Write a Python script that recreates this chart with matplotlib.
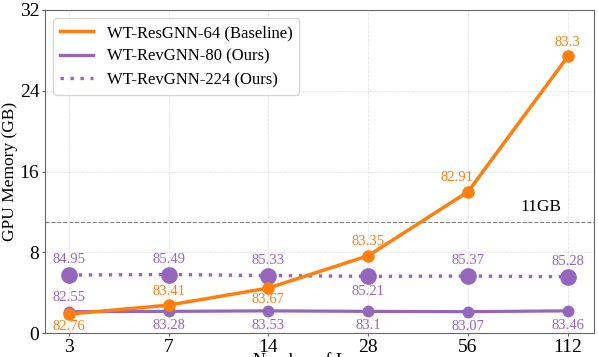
import matplotlib.pyplot as plt

layers = ["3", "7", "14", "28", "56", "112"]
res_mem = [1.88, 2.77, 4.46, 7.66, 14.0, 27.4]
rev80_mem = [2.12, 2.15, 2.2, 2.15, 2.12, 2.2]
rev224_mem = [5.75, 5.8, 5.7, 5.62, 5.65, 5.58]
res_acc = ["82.76", "83.41", "83.67", "83.35", "82.91", "83.3"]
rev80_acc = ["82.55", "83.28", "83.53", "83.1", "83.07", "83.46"]
rev224_acc = ["84.95", "85.49", "85.33", "85.21", "85.37", "85.28"]

orange = "#ff7f0e"
purple = "#9467bd"

plt.rcParams["font.family"] = ["Liberation Serif", "DejaVu Serif"]

fig = plt.figure(figsize=(5.98, 3.57), dpi=100)
ax = fig.add_axes([0.075, 0.067, 0.918, 0.905])

x = list(range(len(layers)))
ax.plot(x, res_mem, color=orange, lw=2.5, marker="o", ms=8, zorder=4)
ax.plot(x, rev80_mem, color=purple, lw=2.3, marker="o", ms=7.5, zorder=3)
ax.plot(x, rev224_mem, color=purple, lw=2.4, ls=(0, (1, 2)), dash_capstyle="butt",
        marker="o", ms=11, zorder=3)
# legend handles are plain lines
ax.plot([], [], color=orange, lw=2.5, label="WT-ResGNN-64 (Baseline)")
ax.plot([], [], color=purple, lw=2.4, label="WT-RevGNN-80 (Ours)")
ax.plot([], [], color=purple, lw=2.4, ls=(0, (1, 2)), dash_capstyle="butt", label="WT-RevGNN-224 (Ours)")

ax.axhline(11, color="gray", lw=0.8, ls="--", zorder=1)
ax.text(4.73, 11.7, "11GB", fontsize=12.5, ha="center", va="bottom")

# accuracy labels
res_off = [-9, 9.5, -8, 10, 10, 10]
for i, (v, t) in enumerate(zip(res_mem, res_acc)):
    dx = -8 if i == 4 else 0
    ax.annotate(t, (i, v), xytext=(dx, res_off[i]), textcoords="offset points",
                ha="center", va="center", color=orange, fontsize=10.5)
rev80_off = [10, -10.5, -10.5, -10.5, -10.5, -10.5]
for i, (v, t) in enumerate(zip(rev80_mem, rev80_acc)):
    ax.annotate(t, (i, v), xytext=(0, rev80_off[i]), textcoords="offset points",
                ha="center", va="center", color=purple, fontsize=10.5)
rev224_off = [11, 11, 11, -11, 11, 11]
for i, (v, t) in enumerate(zip(rev224_mem, rev224_acc)):
    ax.annotate(t, (i, v), xytext=(0, rev224_off[i]), textcoords="offset points",
                ha="center", va="center", color=purple, fontsize=10.5)

ax.set_xticks(x)
ax.set_xticklabels(layers)
ax.set_xlim(-0.24, 5.26)
ax.set_ylim(0, 32)
ax.set_yticks([0, 8, 16, 24, 32])
ax.tick_params(labelsize=14, length=2.5, pad=1.5, color="#666666")
ax.set_xlabel("Number of Layers", fontsize=13)
ax.xaxis.set_label_coords(0.5, -0.06)
ax.set_ylabel("GPU Memory (GB)", fontsize=12.5)
ax.yaxis.set_label_coords(-0.048, 0.5)
ax.grid(True, ls="--", lw=0.6, color="#e6e6e6")
for s in ax.spines.values():
    s.set_color("#666666")

ax.legend(loc="upper left", fontsize=12, frameon=True, handlelength=2.0,
          borderaxespad=0.5, labelspacing=0.45)

fig.savefig("out.png", dpi=100)
